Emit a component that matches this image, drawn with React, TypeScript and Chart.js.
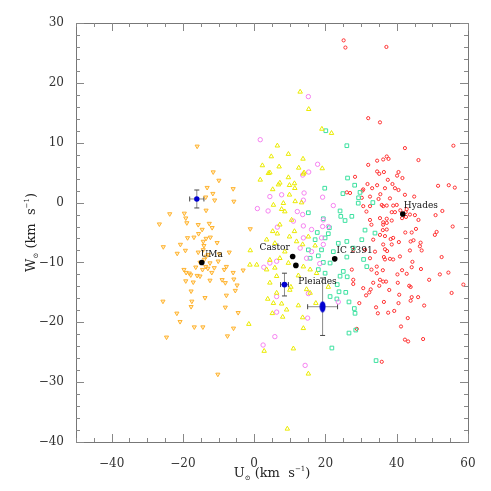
import React, { useEffect, useRef } from 'react';
import { Chart, registerables } from 'chart.js';

Chart.register(...registerables);

// ---------- axis ranges and ticks ----------
const uRange = [-50, 60];
const wRange = [-40, 30];
const xTicks = [-40, -20, 0, 20, 40, 60];
const yTicks = [-40, -30, -20, -10, 0, 10, 20, 30];
const xMinorStep = 5;
const yMinorStep = 2;

// ---------- star samples (U, W) in km/s ----------
const orangeStars: [number, number][] = [
  [-16.0, 9.4], [-11.5, 5.1], [-9.9, 3.7], [-13.2, 2.5], [-11.6, 1.5], [-11.1, 0.4], [-13.6, 0.9], [-5.9, 2.3],
  [-5.7, 0.2], [-13.5, -1.3], [-23.7, -1.9], [-19.6, -1.8], [-19.2, -2.6], [-18.9, -3.4], [-26.6, -3.6], [-15.7, -3.7],
  [-12.6, -3.5], [-11.8, -4.2], [-14.6, -4.5], [-15.6, -5.2], [-12.3, -5.8], [-16.9, -5.8], [-18.7, -5.9], [-13.5, -6.0],
  [-14.3, -6.5], [-10.4, -6.7], [-14.1, -7.2], [-20.7, -7.0], [-25.5, -7.4], [-19.3, -8.0], [-21.6, -8.5], [-15.7, -8.3],
  [-14.3, -7.9], [-12.9, -8.7], [-7.0, -8.3], [-9.8, -8.6], [-10.1, -9.8], [-12.4, -10.1], [-13.6, -10.7], [-11.2, -10.9],
  [-16.4, -10.8], [-15.2, -10.0], [-7.8, -10.7], [-8.4, -11.2], [-3.1, -11.3], [-19.7, -11.2], [-19.1, -11.7], [-18.2, -11.8],
  [-11.9, -11.7], [-5.9, -11.7], [-16.0, -12.2], [-15.2, -12.3], [-17.8, -12.1], [-19.2, -13.1], [-17.1, -13.3], [-12.4, -13.0],
  [-9.0, -12.9], [-8.1, -13.4], [-5.7, -12.8], [-4.8, -13.8], [-5.3, -14.7], [-17.7, -14.8], [-13.8, -15.9], [-7.8, -15.5],
  [-25.6, -16.5], [-17.5, -16.5], [-17.7, -17.4], [-8.1, -17.5], [-4.5, -18.4], [-21.7, -18.5], [-20.8, -19.9], [-16.8, -20.8],
  [-14.4, -20.8], [-5.8, -21.0], [-7.5, -22.3], [-24.6, -22.5], [-10.2, -28.7], [-1.1, -4.4], [-14.0, -9.5], [-13.5, -9.0],
  [-14.5, -11.2], [-13.0, -11.0],
];

const yellowStars: [number, number][] = [
  [12.9, 18.5], [15.3, 15.6], [19.0, 12.3], [21.7, 11.6], [6.5, 9.5], [9.6, 8.1], [4.8, 7.7], [13.7, 7.3],
  [2.3, 6.2], [7.0, 6.0], [12.5, 5.8], [19.1, 5.7], [4.0, 4.9], [9.6, 4.2], [13.8, 4.8], [1.7, 3.8],
  [7.2, 3.3], [9.9, 2.9], [11.3, 3.2], [11.4, 2.4], [5.2, 2.2], [9.9, 1.3], [8.2, -0.1], [11.5, 0.2],
  [13.3, 0.0], [5.4, -0.4], [7.7, -1.1], [8.6, -1.5], [10.5, -2.9], [7.2, -3.7], [5.2, -4.8], [6.5, -5.2],
  [11.3, -4.8], [9.9, -5.7], [15.2, -5.7], [3.5, -6.2], [5.8, -6.8], [11.9, -6.5], [13.6, -7.0], [17.1, -7.2],
  [8.6, -8.2], [7.2, -9.3], [4.4, -9.6], [9.6, -10.1], [5.8, -10.9], [13.8, -10.7], [15.7, -11.2], [3.5, -11.2],
  [6.3, -12.3], [12.4, -12.2], [17.5, -11.8], [4.4, -13.4], [6.3, -15.1], [10.0, -14.6], [5.4, -16.8], [15.7, -15.1],
  [3.8, -16.1], [7.7, -16.9], [5.1, -18.5], [9.1, -17.9], [8.0, -19.1], [12.4, -17.2], [13.6, -19.2], [17.3, -16.8],
  [13.8, -21.0], [-1.5, -20.3], [11.0, -24.4], [2.8, -24.8], [15.2, -28.6], [9.3, -37.8], [20.8, -14.1], [14.7, -14.5],
  [10.3, -14.1], [-1.2, -10.4], [4.4, 5.0], [6.8, 3.0], [-1.1, -8.0], [0.7, -10.4], [14.0, 5.0],
];

const pinkStars: [number, number][] = [
  [15.2, 17.7], [1.7, 10.5], [17.8, 6.4], [15.3, 5.1], [13.6, 4.6], [14.0, 1.6], [19.2, 0.9], [0.9, -1.0],
  [3.9, -1.4], [6.5, -4.1], [2.7, -10.8], [6.3, -9.8], [6.3, -15.7], [4.4, 1.0], [7.7, 1.3], [13.8, 0.4],
  [12.1, -1.5], [13.6, -2.0], [11.0, -3.1], [13.8, -3.9], [19.4, -2.9], [16.1, -4.5], [13.8, -5.9], [18.9, -5.9],
  [19.4, -7.0], [12.9, -7.6], [16.1, -8.2], [4.4, -10.1], [14.7, -9.3], [18.4, -10.2], [6.3, -18.3], [15.0, -19.3],
  [15.2, -15.2], [5.8, -22.4], [2.5, -23.8], [14.3, -27.2], [23.6, -16.6], [22.2, -0.5], [19.2, -4.0], [20.8, -4.0],
];

const greenStars: [number, number][] = [
  [20.1, 12.0], [26.0, 9.5], [26.2, 4.1], [28.2, 2.9], [19.8, 2.4], [24.9, 1.5], [29.7, 1.7], [29.3, 0.8],
  [29.2, -0.1], [33.3, 0.0], [15.2, -1.7], [24.1, -1.4], [19.4, -2.7], [25.5, -3.0], [24.3, -2.3], [21.1, -4.2],
  [17.7, -5.0], [20.8, -5.2], [33.9, -5.1], [31.1, -4.6], [19.9, -5.9], [17.1, -6.2], [26.0, -6.5], [23.6, -6.8],
  [18.9, -7.9], [15.2, -7.9], [27.8, -7.6], [18.0, -8.9], [19.4, -10.0], [26.0, -9.1], [15.7, -9.3], [21.3, -10.1],
  [18.0, -11.2], [31.6, -10.7], [25.0, -11.5], [19.9, -11.8], [24.1, -12.3], [26.1, -12.4], [23.3, -13.7], [23.8, -14.9],
  [25.7, -15.0], [21.3, -15.7], [23.2, -16.1], [26.6, -16.6], [28.1, -17.7], [28.3, -18.5], [26.6, -21.8], [28.5, -21.3],
  [21.8, -24.3], [34.2, -26.4], [27.4, -2.3], [30.2, -6.2], [22.2, -8.2], [30.7, -9.5],
];

const redStars: [number, number][] = [
  [25.1, 27.1], [25.6, 25.9], [37.1, 26.0], [32.0, 14.1], [35.3, 13.4], [42.3, 9.1], [55.9, 9.5], [46.1, 7.1],
  [37.2, 7.7], [36.2, 7.2], [37.7, 7.3], [34.5, 7.0], [32.0, 6.3], [28.3, 4.3], [34.5, 5.2], [35.1, 4.8],
  [36.4, 5.1], [40.5, 5.1], [40.1, 4.5], [41.6, 4.1], [37.5, 3.8], [38.8, 3.1], [34.5, 2.9], [31.8, 3.1],
  [33.1, 2.4], [30.4, 2.0], [26.0, 1.7], [26.9, 1.6], [40.5, 2.1], [35.4, 1.4], [32.5, 1.0], [38.1, 0.7],
  [44.9, 1.0], [51.6, 2.8], [54.6, 2.9], [56.3, 2.5], [36.2, -0.6], [37.2, -0.5], [39.0, -0.5], [40.0, -0.4],
  [38.6, -1.6], [39.5, -1.6], [42.8, -1.1], [43.7, -2.0], [45.1, -2.1], [42.6, -2.4], [46.1, -2.9], [52.8, -1.4],
  [50.9, -2.1], [36.2, -3.3], [37.2, -3.4], [38.6, -3.0], [55.7, -4.0], [45.4, -4.4], [36.1, -4.6], [42.4, -5.0],
  [44.2, -5.0], [51.2, -4.9], [50.7, -5.4], [36.7, -5.6], [38.3, -6.1], [39.0, -5.9], [44.7, -6.3], [46.7, -6.7],
  [40.6, -6.6], [43.9, -6.5], [46.5, -7.3], [47.0, -8.0], [36.7, -7.8], [37.3, -8.1], [43.7, -8.0], [36.4, -9.1],
  [39.0, -9.5], [38.1, -9.4], [52.6, -9.1], [44.4, -9.9], [44.2, -10.8], [46.8, -11.1], [41.5, -11.3], [42.8, -11.9],
  [40.2, -12.0], [54.5, -11.7], [52.1, -12.0], [49.1, -12.9], [58.7, -13.7], [36.1, -11.3], [36.2, -13.2], [37.0, -13.2],
  [37.9, -14.6], [43.5, -13.9], [43.9, -14.1], [55.4, -15.1], [40.7, -15.4], [44.2, -15.8], [46.0, -15.8], [43.9, -16.4],
  [47.7, -17.2], [36.4, -16.6], [40.5, -16.8], [37.6, -18.4], [39.3, -18.1], [43.1, -19.3], [41.2, -20.7], [42.3, -22.9],
  [43.2, -23.2], [47.4, -22.8], [27.8, -13.6], [30.6, -14.3], [32.7, -14.5], [32.3, -15.0], [35.1, -13.9], [31.4, -15.5],
  [29.5, -16.8], [34.2, -17.5], [34.7, -18.5], [28.8, -21.1], [35.8, -26.6], [36.7, 2.4], [39.5, 2.4], [30.6, 2.2],
  [34.9, 0.6], [42.3, 1.3], [30.6, -0.6], [32.5, -0.6], [31.5, -1.5], [35.8, -0.4], [35.3, -2.6], [37.2, -2.7],
  [32.5, -2.9], [32.9, -3.7], [36.2, -3.7], [37.2, -4.5], [35.3, -5.4], [33.4, -6.2], [36.2, -7.0], [38.6, -7.0],
  [31.1, -7.9], [33.9, -8.2], [27.8, -7.9], [32.5, -9.3], [36.7, -9.5], [40.9, -9.0], [34.4, -10.7], [32.9, -11.2],
  [34.4, -11.8], [35.3, -12.9], [33.4, -13.4], [27.4, -11.2], [27.8, -12.9], [40.3, -13.4], [30.2, 0.8], [41.0, -1.3],
  [42.5, -1.6], [41.5, -2.6],
];

// ---------- cluster centres (black dots) ----------
const clusterU = [-14.7, 10.8, 11.7, 22.6, 41.7];
const clusterW = [-10.0, -9.0, -10.5, -9.4, -1.9];

// ---------- cluster labels ----------
const labelTexts = ['UMa', 'Castor', 'IC 2391', 'Hyades', 'Pleiades'];
const labelU = [-15.0, 10.0, 23.1, 42.0, 12.4];
const labelW = [-9.1, -7.9, -8.4, -0.9, -13.6];
const labelAlign: CanvasTextAlign[] = ['left', 'right', 'left', 'left', 'left'];

// ---------- mean motions with errors (blue) ----------
const meanU = [-16.1, 8.5, 19.2];
const meanW = [0.6, -13.7, -17.4];
const meanUErr = [2.0, 1.1, 4.2];
const meanWErr = [1.5, 1.9, 4.8];

const SERIF = "'DejaVu Serif', 'Liberation Serif', serif";

const fmtTick = (v: number) => (v < 0 ? '\u2212' + Math.abs(v) : String(v));

function toPts(arr: [number, number][]) {
  return arr.map(([x, y]) => ({ x, y }));
}

function makeEllipse(): HTMLCanvasElement {
  const c = document.createElement('canvas');
  c.width = 7;
  c.height = 12;
  const g = c.getContext('2d')!;
  g.fillStyle = '#0000d0';
  g.beginPath();
  g.ellipse(3.5, 6, 3, 5.5, 0, 0, Math.PI * 2);
  g.fill();
  return c;
}

function drawTitle(ctx: CanvasRenderingContext2D, letter: string, cx: number, baseY: number) {
  const pieces: { t: string; size: number; dy: number }[] = [
    { t: letter, size: 13, dy: 0 },
    { t: '\u2299', size: 7, dy: 3 },
    { t: ' (km  s', size: 13, dy: 0 },
    { t: '\u22121', size: 7, dy: -6 },
    { t: ')', size: 13, dy: 0 },
  ];
  let total = 0;
  const widths = pieces.map((p) => {
    ctx.font = `${p.size}px ${SERIF}`;
    const w = ctx.measureText(p.t).width;
    total += w;
    return w;
  });
  let x = cx - total / 2;
  ctx.textAlign = 'left';
  ctx.textBaseline = 'alphabetic';
  pieces.forEach((p, i) => {
    ctx.font = `${p.size}px ${SERIF}`;
    ctx.fillText(p.t, x, baseY + p.dy);
    x += widths[i];
  });
}

const decorPlugin = {
  id: 'decor',
  beforeDatasetsDraw(chart: any) {
    const { ctx, scales } = chart;
    const xs = scales.x;
    const ys = scales.y;
    ctx.save();
    ctx.lineWidth = 1;
    meanU.forEach((u, i) => {
      const px = xs.getPixelForValue(u);
      const py = ys.getPixelForValue(meanW[i]);
      const x1 = xs.getPixelForValue(u - meanUErr[i]);
      const x2 = xs.getPixelForValue(u + meanUErr[i]);
      const y1 = ys.getPixelForValue(meanW[i] + meanWErr[i]);
      const y2 = ys.getPixelForValue(meanW[i] - meanWErr[i]);
      ctx.strokeStyle = '#8a8a8a';
      ctx.beginPath();
      ctx.moveTo(x1, py);
      ctx.lineTo(x2, py);
      ctx.moveTo(px, y1);
      ctx.lineTo(px, y2);
      ctx.stroke();
      ctx.strokeStyle = '#444';
      ctx.beginPath();
      ctx.moveTo(x1, py - 2.5);
      ctx.lineTo(x1, py + 2.5);
      ctx.moveTo(x2, py - 2.5);
      ctx.lineTo(x2, py + 2.5);
      ctx.moveTo(px - 2.5, y1);
      ctx.lineTo(px + 2.5, y1);
      ctx.moveTo(px - 2.5, y2);
      ctx.lineTo(px + 2.5, y2);
      ctx.stroke();
    });
    ctx.restore();
  },
  afterDatasetsDraw(chart: any) {
    const { ctx, scales, chartArea } = chart;
    const xs = scales.x;
    const ys = scales.y;
    const { left, right, top, bottom } = chartArea;
    ctx.save();
    // labels
    ctx.fillStyle = '#111';
    ctx.font = `9px ${SERIF}`;
    ctx.textBaseline = 'alphabetic';
    labelTexts.forEach((t, i) => {
      ctx.textAlign = labelAlign[i];
      ctx.fillText(t, xs.getPixelForValue(labelU[i]), ys.getPixelForValue(labelW[i]));
    });
    // frame
    ctx.strokeStyle = '#777';
    ctx.lineWidth = 1;
    ctx.strokeRect(Math.round(left) + 0.5, Math.round(top) + 0.5, Math.round(right - left), Math.round(bottom - top));
    // ticks (inward, all four sides)
    ctx.strokeStyle = '#888';
    ctx.beginPath();
    for (let v = uRange[0]; v <= uRange[1] + 1e-9; v += xMinorStep) {
      const px = Math.round(xs.getPixelForValue(v)) + 0.5;
      const len = xTicks.includes(v) ? 8 : 4;
      ctx.moveTo(px, bottom);
      ctx.lineTo(px, bottom - len);
      ctx.moveTo(px, top);
      ctx.lineTo(px, top + len);
    }
    for (let v = wRange[0]; v <= wRange[1] + 1e-9; v += yMinorStep) {
      const py = Math.round(ys.getPixelForValue(v)) + 0.5;
      const len = yTicks.includes(v) ? 8 : 4;
      ctx.moveTo(left, py);
      ctx.lineTo(left + len, py);
      ctx.moveTo(right, py);
      ctx.lineTo(right - len, py);
    }
    ctx.stroke();
    ctx.restore();
  },
  afterDraw(chart: any) {
    const { ctx, chartArea } = chart;
    const cx = (chartArea.left + chartArea.right) / 2;
    const cy = (chartArea.top + chartArea.bottom) / 2;
    ctx.save();
    ctx.fillStyle = '#222';
    drawTitle(ctx, 'U', cx, 477);
    ctx.translate(35, cy);
    ctx.rotate(-Math.PI / 2);
    drawTitle(ctx, 'W', 0, 0);
    ctx.restore();
  },
};

export default function App() {
  const ref = useRef<HTMLCanvasElement | null>(null);

  useEffect(() => {
    if (!ref.current) return;
    const ellipse = makeEllipse();
    const chart = new Chart(ref.current, {
      type: 'scatter',
      data: {
        datasets: [
          {
            label: 'mean',
            data: meanU.map((u, i) => ({ x: u, y: meanW[i] })),
            pointStyle: ['circle', 'circle', ellipse] as any,
            pointRadius: [2.7, 2.9, 5],
            backgroundColor: '#0000d0',
            borderColor: '#0000d0',
            borderWidth: 0,
          },
          {
            label: 'clusters',
            data: clusterU.map((u, i) => ({ x: u, y: clusterW[i] })),
            pointStyle: 'circle',
            pointRadius: 2.8,
            backgroundColor: '#000',
            borderColor: '#000',
            borderWidth: 0,
          },
          {
            label: 'orange',
            data: toPts(orangeStars),
            pointStyle: 'triangle',
            rotation: 180,
            pointRadius: 2.4,
            backgroundColor: 'rgba(255,200,90,0.35)',
            borderColor: 'rgba(255,176,40,0.95)',
            borderWidth: 1,
          },
          {
            label: 'yellow',
            data: toPts(yellowStars),
            pointStyle: 'triangle',
            pointRadius: 2.6,
            backgroundColor: 'rgba(0,0,0,0)',
            borderColor: 'rgba(235,235,0,1)',
            borderWidth: 1,
          },
          {
            label: 'pink',
            data: toPts(pinkStars),
            pointStyle: 'circle',
            pointRadius: 2.2,
            backgroundColor: 'rgba(0,0,0,0)',
            borderColor: 'rgba(245,130,240,1)',
            borderWidth: 1,
          },
          {
            label: 'green',
            data: toPts(greenStars),
            pointStyle: 'rect',
            pointRadius: 2.6,
            backgroundColor: 'rgba(0,0,0,0)',
            borderColor: 'rgba(60,225,160,1)',
            borderWidth: 1,
          },
          {
            label: 'red',
            data: toPts(redStars),
            pointStyle: 'circle',
            pointRadius: 1.6,
            backgroundColor: 'rgba(0,0,0,0)',
            borderColor: 'rgba(255,50,50,1)',
            borderWidth: 1,
          },
        ],
      },
      options: {
        responsive: false,
        animation: false,
        events: [],
        layout: { padding: { top: 23, right: 23, left: 0, bottom: 0 } },
        plugins: { legend: { display: false }, tooltip: { enabled: false } },
        scales: {
          x: {
            type: 'linear',
            position: 'bottom',
            min: uRange[0],
            max: uRange[1],
            afterBuildTicks: (s: any) => {
              s.ticks = xTicks.map((v) => ({ value: v }));
            },
            afterFit: (s: any) => {
              s.height = 49;
            },
            grid: { display: false },
            border: { display: false },
            ticks: {
              font: { family: SERIF, size: 12 },
              color: '#333',
              padding: 7,
              maxRotation: 0,
              autoSkip: false,
              callback: (v: any) => fmtTick(Number(v)),
            },
          },
          y: {
            type: 'linear',
            min: wRange[0],
            max: wRange[1],
            afterBuildTicks: (s: any) => {
              s.ticks = yTicks.map((v) => ({ value: v }));
            },
            afterFit: (s: any) => {
              s.width = 76;
            },
            grid: { display: false },
            border: { display: false },
            ticks: {
              font: { family: SERIF, size: 12 },
              color: '#333',
              padding: 4,
              autoSkip: false,
              callback: (v: any) => fmtTick(Number(v)),
            },
          },
        },
      },
      plugins: [decorPlugin],
    } as any);
    return () => chart.destroy();
  }, []);

  return (
    <div style={{ position: 'fixed', left: 0, top: 0, width: 491, height: 491, background: '#fff' }}>
      <canvas ref={ref} width={491} height={491} style={{ width: 491, height: 491, display: 'block' }} />
    </div>
  );
}
